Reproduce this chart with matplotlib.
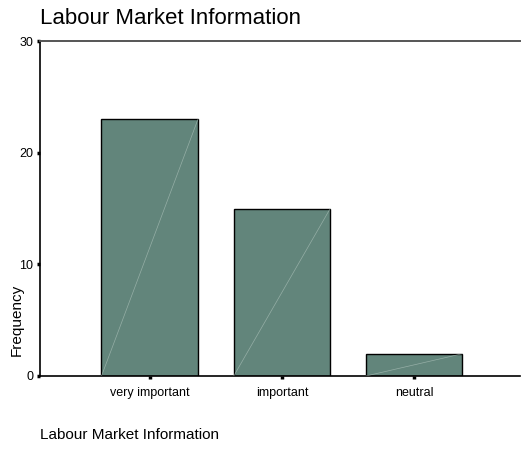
import matplotlib
matplotlib.use("Agg")
import matplotlib.pyplot as plt
import numpy as np

plt.rcParams['font.family'] = ['Liberation Sans', 'DejaVu Sans']

categories = ["very important", "important", "neutral"]
frequency = [23, 15, 2]
y_ticks = [0, 10, 20, 30]

W, H = 521, 450
fig = plt.figure(figsize=(W / 100, H / 100), dpi=100)
ax = fig.add_axes([40 / W, (H - 376) / H, (520 - 40) / W, (376 - 41) / H])

x = np.arange(len(categories))
bar_w = 0.73
ax.bar(x, frequency, width=bar_w, color="#62857b", edgecolor="black", linewidth=1.0, zorder=2)

# thin diagonal highlight across each bar
for xi, v in zip(x, frequency):
    ax.plot([xi - bar_w / 2, xi + bar_w / 2], [0, v], color="#b8cac3", lw=0.5, alpha=0.6, zorder=3)

ax.set_xlim(-0.83, 2.8)
ax.set_ylim(0, 30)
ax.set_yticks(y_ticks)
ax.set_xticks(x)
ax.set_xticklabels(categories, fontsize=9)
ax.tick_params(axis='y', direction='out', length=2, width=2.5, labelsize=9, pad=3)
ax.tick_params(axis='x', direction='out', length=2, width=2.5, labelsize=9, pad=6)

ax.spines['right'].set_visible(False)
ax.spines['top'].set_color('#555555')
ax.spines['top'].set_linewidth(1.4)
ax.spines['left'].set_linewidth(1.2)
ax.spines['bottom'].set_linewidth(1.2)

fig.text(40 / W, 1 - 18 / H, "Labour Market Information", fontsize=16, ha='left', va='center')
fig.text(40 / W, 1 - 435 / H, "Labour Market Information", fontsize=11, ha='left', va='center')
fig.text(17 / W, 1 - 320 / H, "Frequency", fontsize=11, rotation=90, ha='center', va='center')

fig.savefig("out.png", dpi=100)
